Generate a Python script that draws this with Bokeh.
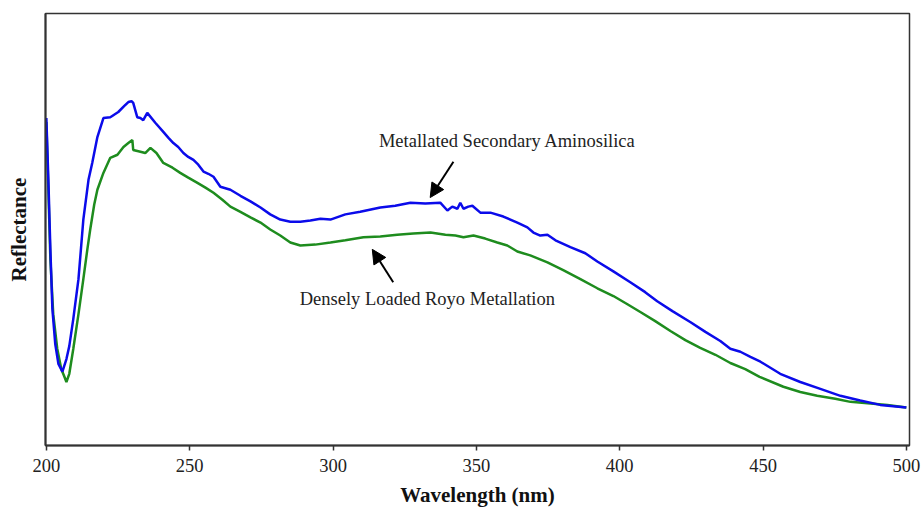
from bokeh.plotting import figure
from bokeh.models import Range1d, FixedTicker, Label, Arrow, NormalHead
from bokeh.embed import file_html
from bokeh.resources import INLINE

# ---- data (reflectance in arbitrary units) ----
blue_nm = [200.0, 200.7, 201.4, 202.1, 203.1, 204.2, 205.6, 207.0, 208.0, 209.4, 211.2, 212.9,
           214.7, 216.0, 217.8, 219.9, 222.3, 225.1, 227.2, 228.6, 229.7, 230.3, 231.7, 232.8,
           233.8, 235.2, 238.0, 240.8, 242.6, 244.3, 246.0, 247.8, 249.5, 251.3, 253.0, 254.8,
           256.5, 258.3, 260.7, 264.2, 267.7, 271.2, 274.7, 278.1, 281.6, 285.1, 288.6, 292.1,
           295.6, 299.1, 304.3, 309.5, 316.5, 321.7, 327.0, 332.2, 337.4, 339.9, 341.6, 343.4,
           344.4, 345.5, 347.2, 348.6, 351.4, 354.9, 359.4, 364.3, 367.8, 369.9, 372.3, 374.8,
           377.6, 382.8, 388.0, 392.2, 397.8, 403.7, 408.9, 413.1, 418.4, 424.6, 429.9, 435.1,
           438.6, 442.1, 445.6, 449.1, 456.0, 463.0, 470.0, 477.0, 483.9, 490.9, 500.0]
blue_refl = [75.8, 61.5, 45.4, 31.6, 23.5, 18.9, 17.1, 20.0, 23.0, 29.3, 38.5, 52.3,
             61.5, 65.4, 71.4, 75.8, 76.0, 77.2, 78.6, 79.5, 79.7, 79.3, 76.0, 75.8,
             75.3, 77.0, 74.7, 72.6, 71.2, 70.0, 69.1, 67.7, 66.8, 66.1, 65.0, 63.4,
             62.9, 62.2, 59.9, 59.2, 57.8, 56.5, 55.1, 53.5, 52.3, 51.8, 51.8, 52.1,
             52.5, 52.3, 53.5, 54.1, 55.1, 55.5, 56.2, 56.0, 56.2, 54.4, 55.3, 54.8,
             56.2, 54.8, 55.3, 55.5, 53.9, 53.9, 53.0, 51.6, 50.5, 49.3, 48.6, 48.8,
             47.5, 45.9, 44.5, 42.6, 40.3, 37.8, 35.5, 33.4, 31.1, 28.6, 26.3, 24.2,
             22.4, 21.7, 20.5, 19.4, 16.6, 14.7, 13.1, 11.5, 10.4, 9.4, 8.8]

green_nm = [200.0, 200.7, 201.4, 202.4, 203.8, 205.2, 206.3, 207.0, 208.0, 209.4, 211.2, 212.9,
            214.3, 215.3, 216.7, 217.8, 219.9, 222.3, 224.8, 226.9, 228.6, 230.0, 230.3, 232.8,
            234.5, 236.3, 238.4, 240.8, 244.0, 246.7, 249.5, 252.7, 255.5, 258.3, 261.4, 264.2,
            267.7, 271.2, 274.7, 278.1, 281.6, 285.1, 288.6, 293.8, 299.1, 304.3, 310.6, 316.5,
            322.4, 328.0, 334.0, 339.2, 342.7, 345.5, 349.0, 353.1, 357.3, 360.8, 364.3, 368.8,
            374.8, 380.3, 386.3, 392.2, 397.8, 402.7, 407.2, 412.4, 417.7, 422.9, 428.1, 433.4,
            438.6, 443.8, 448.8, 457.1, 463.0, 468.9, 475.2, 480.5, 487.5, 493.4, 500.0]
green_refl = [74.9, 59.2, 43.1, 30.4, 22.4, 17.7, 15.9, 14.7, 16.6, 22.4, 30.4, 38.5,
              45.4, 50.0, 55.8, 59.2, 63.1, 66.6, 67.3, 69.1, 70.0, 70.7, 68.4, 68.0,
              67.7, 68.9, 67.7, 65.4, 64.3, 63.1, 62.0, 60.8, 59.7, 58.5, 56.9, 55.3,
              54.1, 52.8, 51.6, 50.0, 48.6, 47.0, 46.3, 46.5, 47.0, 47.5, 48.2, 48.4,
              48.8, 49.1, 49.3, 48.8, 48.6, 48.2, 48.6, 47.9, 47.0, 46.3, 44.9, 44.0,
              42.4, 40.6, 38.5, 36.4, 34.6, 32.7, 30.9, 28.8, 26.5, 24.4, 22.6, 21.0,
              19.1, 17.7, 15.9, 13.6, 12.4, 11.5, 10.8, 10.1, 9.7, 9.4, 8.8]

x_ticks = [200, 250, 300, 350, 400, 450, 500]

label_blue = "Metallated Secondary Aminosilica"
label_green = "Densely Loaded Royo Metallation"

SERIF = "Liberation Serif"

p = figure(width=921, height=509, output_backend="svg", toolbar_location=None,
           x_range=Range1d(199.7, 501.1), y_range=Range1d(0, 100),
           min_border_left=45, min_border_right=12, min_border_top=13, min_border_bottom=62)
p.background_fill_color = "white"
p.border_fill_color = "white"
p.outline_line_color = "#333333"
p.outline_line_width = 1.5
p.grid.visible = False

# x axis
xa = p.xaxis[0]
xa.ticker = FixedTicker(ticks=x_ticks)
xa.major_tick_out = 5
xa.major_tick_in = 0
xa.minor_tick_out = 0
xa.minor_tick_in = 0
xa.axis_line_width = 2
xa.axis_line_color = "#333333"
xa.major_tick_line_color = "#333333"
xa.major_tick_line_width = 1.5
xa.major_label_text_font = SERIF
xa.major_label_text_font_size = "18.5px"
xa.major_label_text_color = "#222222"
xa.major_label_standoff = 8
xa.axis_label = "Wavelength (nm)"
xa.axis_label_text_font = SERIF
xa.axis_label_text_font_style = "bold"
xa.axis_label_text_font_size = "21px"
xa.axis_label_text_color = "#111111"
xa.axis_label_standoff = 8

# y axis (no ticks)
ya = p.yaxis[0]
ya.ticker = FixedTicker(ticks=[])
ya.major_label_text_font_size = "0px"
ya.major_tick_out = 0
ya.minor_tick_out = 0
ya.axis_line_width = 2
ya.axis_line_color = "#333333"
ya.axis_label = "Reflectance"
ya.axis_label_text_font = SERIF
ya.axis_label_text_font_style = "bold"
ya.axis_label_text_font_size = "21px"
ya.axis_label_text_color = "#111111"
ya.axis_label_standoff = 15

p.line(green_nm, green_refl, line_color="#1e8c1e", line_width=2.5)
p.line(blue_nm, blue_refl, line_color="#0b0bea", line_width=2.5)

# annotations
p.add_layout(Label(x=360.8, y=70.5, text=label_blue, text_align="center", text_baseline="middle",
                   text_font=SERIF, text_font_size="18.5px", text_color="#222222"))
p.add_layout(Label(x=332.9, y=33.9, text=label_green, text_align="center", text_baseline="middle",
                   text_font=SERIF, text_font_size="18.5px", text_color="#222222"))
p.add_layout(Arrow(x_start=342.0, y_start=65.7, x_end=333.9, y_end=57.4, line_width=2,
                   line_color="black",
                   end=NormalHead(size=14, fill_color="black", line_color="black")))
p.add_layout(Arrow(x_start=321.0, y_start=37.8, x_end=313.7, y_end=45.4, line_width=2,
                   line_color="black",
                   end=NormalHead(size=14, fill_color="black", line_color="black")))

open("out.html", "w").write(file_html(p, INLINE))
